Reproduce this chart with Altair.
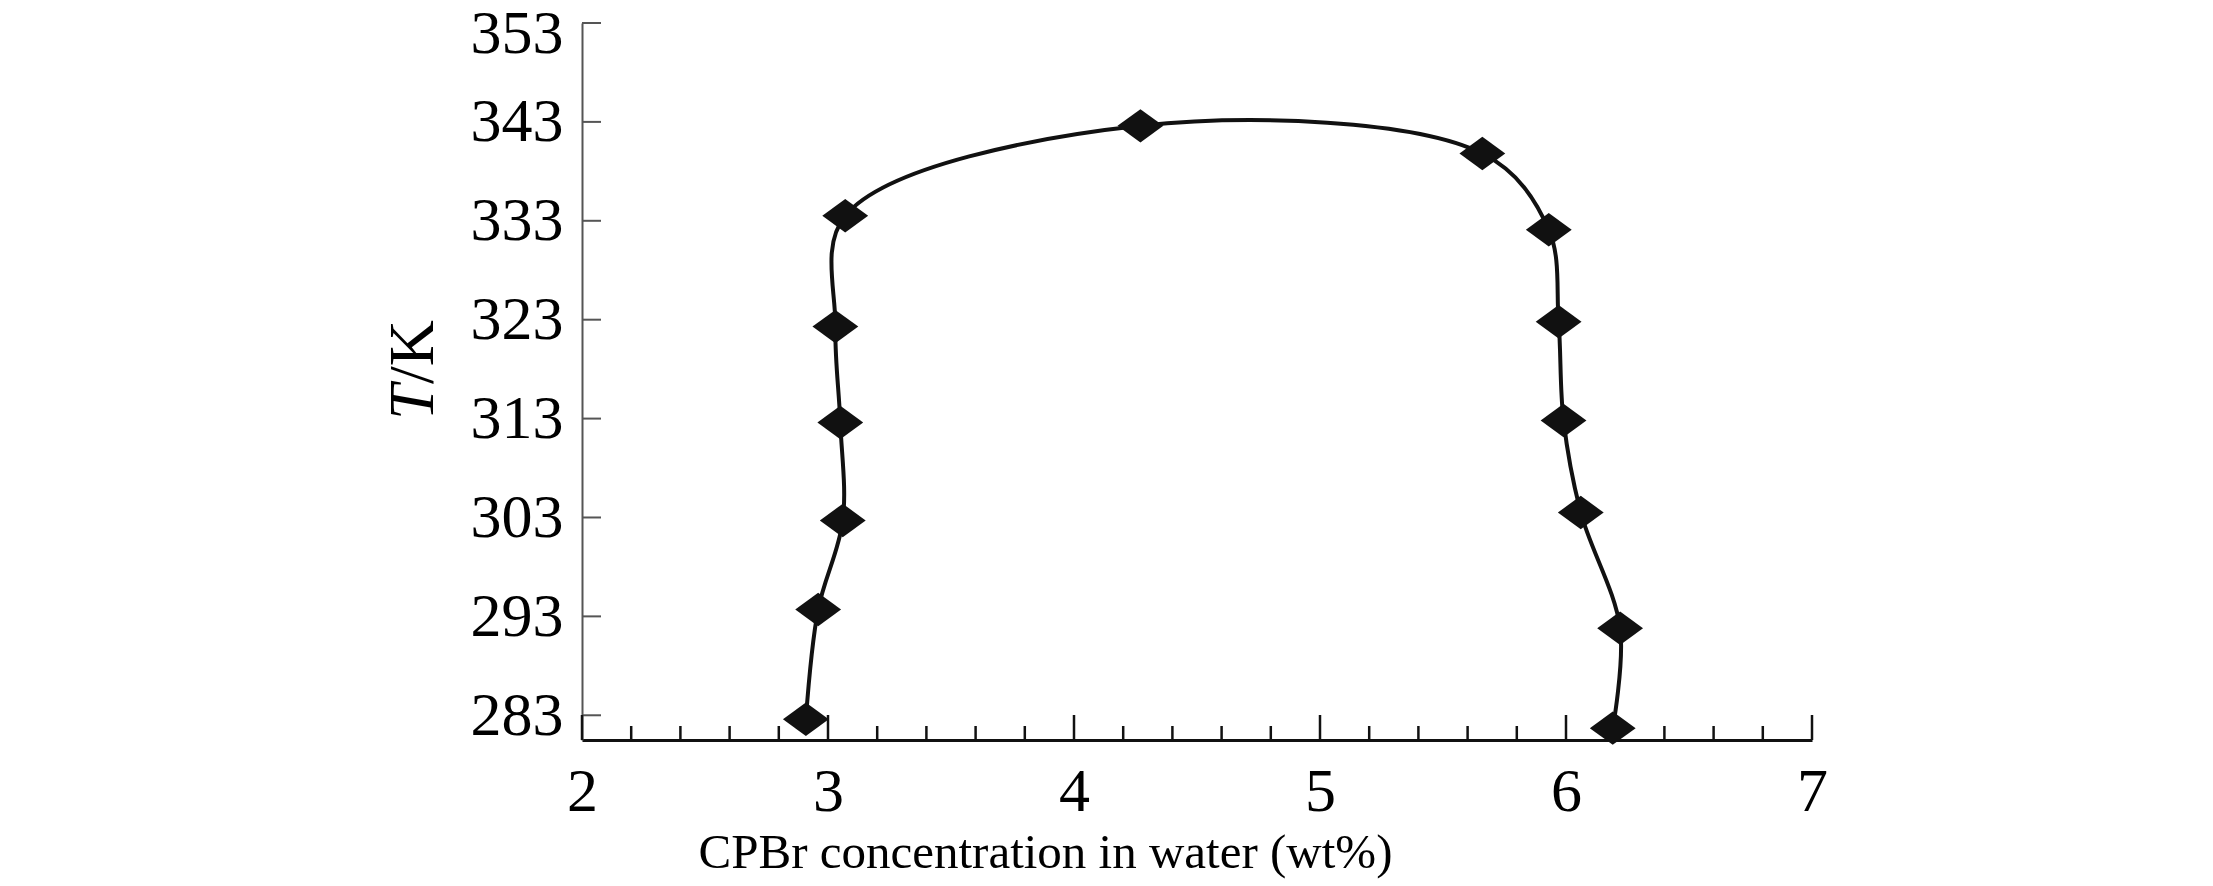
import altair as alt
import pandas as pd

# Data (ordered along the curve)
conc = [2.91, 2.96, 3.06, 3.05, 3.03, 3.07, 4.27, 5.66, 5.93, 5.97, 5.99, 6.06, 6.22, 6.19]
temp = [282.6, 293.7, 302.7, 312.6, 322.3, 333.5, 342.6, 339.8, 332.1, 322.8, 312.8, 303.5, 291.8, 281.7]
order = list(range(len(conc)))

y_ticks = [283, 293, 303, 313, 323, 333, 343, 353]
x_major = [2, 3, 4, 5, 6, 7]
x_minor = [round(2 + 0.2 * i, 1) for i in range(26) if i % 5 != 0]

df = pd.DataFrame({"c": conc, "T": temp, "o": order})
W, H = 1230, 717
FONT = "Liberation Serif"

xs = alt.Scale(domain=[2, 7], nice=False, zero=False)
ys = alt.Scale(domain=[280.5, 353], nice=False, zero=False)

xaxis = alt.Axis(values=x_major, format="d", ticks=False, tickSize=0, grid=False,
                 domainColor="#111", domainWidth=3, labelFont=FONT, labelFontSize=62,
                 labelColor="#000", labelPadding=21, labelFlush=False,
                 title="CPBr concentration in water (wt%)", titleFont=FONT,
                 titleFontSize=49, titleFontWeight="normal", titleColor="#000",
                 titleX=463, titleY=127, titleAlign="center", titleBaseline="alphabetic")
yaxis = alt.Axis(values=y_ticks, format="d", ticks=False, tickSize=0, grid=False,
                 domainColor="#555", domainWidth=2, labelFont=FONT, labelFontSize=62,
                 labelColor="#000", labelPadding=19, labelFlush=False, title=None,
                 labelOffset={"condition": {"test": "datum.value == 353", "value": 10}, "value": 0})

line = alt.Chart(df).mark_line(interpolate="catmull-rom", color="#111", strokeWidth=4).encode(
    x=alt.X("c:Q", scale=xs, axis=xaxis),
    y=alt.Y("T:Q", scale=ys, axis=yaxis),
    order="o:Q",
)
pts = alt.Chart(df).mark_point(
    shape="M-1,0L0,-0.73L1,0L0,0.73Z", size=2100, filled=True, color="#111", opacity=1
).encode(x=alt.X("c:Q", scale=xs), y=alt.Y("T:Q", scale=ys))

yt = alt.Chart(pd.DataFrame({"v": y_ticks})).mark_rule(color="#555", strokeWidth=2).encode(
    y=alt.Y("v:Q", scale=ys), x=alt.value(0), x2=alt.value(19))
xmaj = alt.Chart(pd.DataFrame({"v": x_major})).mark_rule(color="#111", strokeWidth=2.5).encode(
    x=alt.X("v:Q", scale=xs), y=alt.value(H), y2=alt.value(H - 25))
xmin = alt.Chart(pd.DataFrame({"v": x_minor})).mark_rule(color="#111", strokeWidth=2.5).encode(
    x=alt.X("v:Q", scale=xs), y=alt.value(H), y2=alt.value(H - 14))

t_it = alt.Chart(pd.DataFrame({"s": ["T"]})).mark_text(
    font=FONT, fontSize=64, fontStyle="italic", angle=270, align="left",
    baseline="alphabetic", color="#000").encode(
    text="s:N", x=alt.value(-149), y=alt.value(397))
t_k = alt.Chart(pd.DataFrame({"s": ["/K"]})).mark_text(
    font=FONT, fontSize=64, angle=270, align="left",
    baseline="alphabetic", color="#000").encode(
    text="s:N", x=alt.value(-149), y=alt.value(361))

chart = alt.layer(yt, xmaj, xmin, line, pts, t_it, t_k).properties(
    width=W, height=H,
    autosize=alt.AutoSizeParams(type="none"),
    padding={"left": 574, "top": 15, "right": 390, "bottom": 140},
).configure_view(stroke=None)

chart.save("out.html", embed_options={"renderer": "svg", "actions": False})
